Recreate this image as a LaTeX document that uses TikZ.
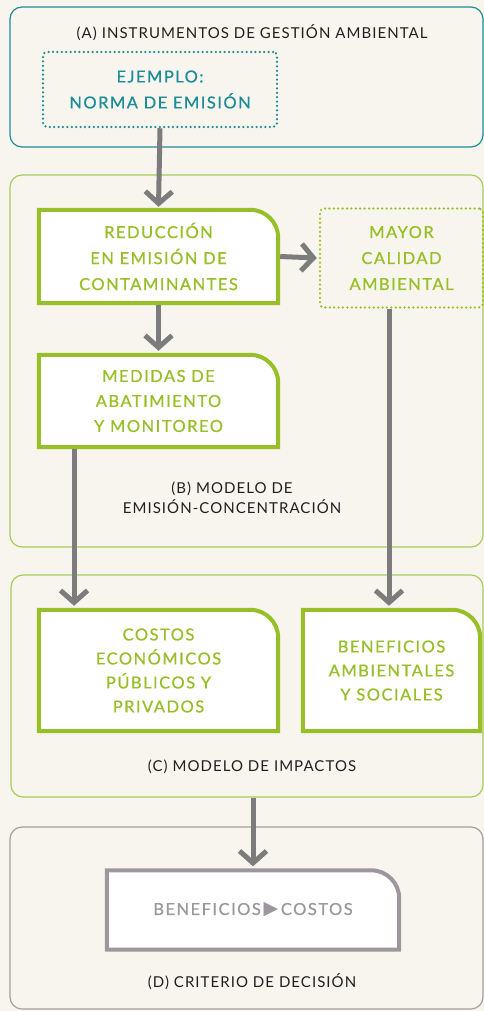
\documentclass[tikz,border=0pt]{standalone}
\usepackage{fontspec}
\setmainfont{Lato}[LetterSpace=7]
\newfontfamily\boxfont{Lato}[LetterSpace=9,FakeBold=0.7]
\newfontfamily\symfont{DejaVu Sans}
\usetikzlibrary{arrows.meta,backgrounds}

\definecolor{cream}{HTML}{F7F5EE}
\definecolor{tealc}{HTML}{1C8C98}
\definecolor{leaf}{HTML}{97BF28}
\definecolor{leaflt}{HTML}{A9CB5A}
\definecolor{arrowgray}{HTML}{7C7C7C}
\definecolor{mauve}{HTML}{9E969D}
\definecolor{panelgray}{HTML}{A39EA2}
\definecolor{ink}{HTML}{231F20}

% marco con esquina superior derecha redondeada
\newcommand\tabframe[2]{%
  \filldraw[fill=white,draw=#2,line width=4pt]
    (#1.south west) -- (#1.north west) -- ([xshift=-28pt]#1.north east)
    arc[start angle=90,end angle=0,radius=28pt] -- (#1.south east) -- cycle;}

\begin{document}
\begin{tikzpicture}[x=1pt,y=1pt,line cap=butt,line join=miter,
    panel/.style={draw,rounded corners=12pt,line width=1.2pt,inner sep=0pt},
    boxtext/.style={align=center,inner sep=0pt,font=\boxfont\fontsize{16.5}{#1}\selectfont},
    boxtext/.default=26,
    dotbox/.style={draw,line width=2.5pt,line cap=round,dash pattern=on 0pt off 4.4pt,
                   rounded corners=4pt,inner sep=0pt},
    label/.style={text=ink,align=center,font=\fontsize{15}{20}\selectfont},
    flow/.style={draw=arrowgray,line width=5pt,-{Straight Barb[length=12pt,width=27pt]}}]
% ---- lienzo (px, origen arriba a la izquierda, y hacia abajo negativa) ----
\useasboundingbox (0,0) rectangle (484,-1011);
% ---- paneles ----
\node[panel,draw=tealc,minimum width=473pt,minimum height=140pt] (panelA) at (246.5,-77) {};
\node[panel,draw=leaflt,minimum width=473pt,minimum height=372pt] (panelB) at (246.5,-361) {};
\node[panel,draw=leaflt,minimum width=472pt,minimum height=222pt] (panelC) at (247,-686) {};
\node[panel,draw=panelgray,minimum width=473pt,minimum height=182pt] (panelD) at (246.5,-918) {};
% ---- etiquetas de paneles ----
\node[label] (titA) at (252,-33) {(A) INSTRUMENTOS DE GESTIÓN AMBIENTAL};
\node[label] (titB) at (232,-498) {(B) MODELO DE\\EMISIÓN-CONCENTRACIÓN};
\node[label] (titC) at (252,-767) {(C) MODELO DE IMPACTOS};
\node[label] (titD) at (252,-982) {(D) CRITERIO DE DECISIÓN};
% ---- cajas punteadas ----
\node[dotbox,draw=tealc,text=tealc,boxtext,minimum width=234pt,minimum height=75pt]
  (norma) at (160,-89.5) {EJEMPLO:\\NORMA DE EMISIÓN};
\node[dotbox,draw=leaf,text=leaf,boxtext,minimum width=163pt,minimum height=99pt]
  (calidad) at (401.5,-258) {MAYOR\\CALIDAD\\AMBIENTAL};
% ---- cajas con esquina redondeada ----
\node[boxtext,text=leaf,minimum width=239pt,minimum height=93pt]
  (reduccion) at (158.5,-256.5) {REDUCCIÓN\\EN EMISIÓN DE\\CONTAMINANTES};
\node[boxtext=25,text=leaf,minimum width=239pt,minimum height=92pt]
  (medidas) at (158.5,-401) {MEDIDAS DE\\ABATIMIENTO\\Y MONITOREO};
\node[boxtext=24,text=leaf,minimum width=239pt,minimum height=121pt]
  (costos) at (158.5,-670.5) {COSTOS\\ECONÓMICOS\\PÚBLICOS Y\\PRIVADOS};
\node[boxtext=24,text=leaf,minimum width=177pt,minimum height=121pt]
  (beneficios) at (391.5,-670.5) {BENEFICIOS\\AMBIENTALES\\Y SOCIALES};
\node[boxtext,text=mauve,minimum width=292pt,minimum height=79pt]
  (criterio) at (253,-910) {BENEFICIOS\,{\symfont\fontsize{19}{19}\selectfont ▶}\,COSTOS};
\begin{pgfonlayer}{background}
  \fill[cream] (0,0) rectangle (484,-1011);
  \tabframe{reduccion}{leaf}
  \tabframe{medidas}{leaf}
  \tabframe{costos}{leaf}
  \tabframe{beneficios}{leaf}
  \tabframe{criterio}{mauve}
\end{pgfonlayer}
% ---- flechas ----
\coordinate (mx) at (74,0);
\coordinate (bx) at (389,0);
\draw[flow] (norma.south) -- ([yshift=3pt]reduccion.north);
\draw[flow] ([xshift=2pt]reduccion.east) -- ([xshift=-2pt]calidad.west);
\draw[flow] ([yshift=-2pt]reduccion.south) -- ([yshift=4pt]medidas.north);
\draw[flow] ([yshift=-2pt]medidas.south -| mx) -- ([yshift=4pt]costos.north -| mx);
\draw[flow] (calidad.south -| bx) -- ([yshift=4pt]beneficios.north -| bx);
\draw[flow] (panelC.south -| criterio.north) -- ([yshift=4pt]criterio.north);
\end{tikzpicture}
\end{document}
